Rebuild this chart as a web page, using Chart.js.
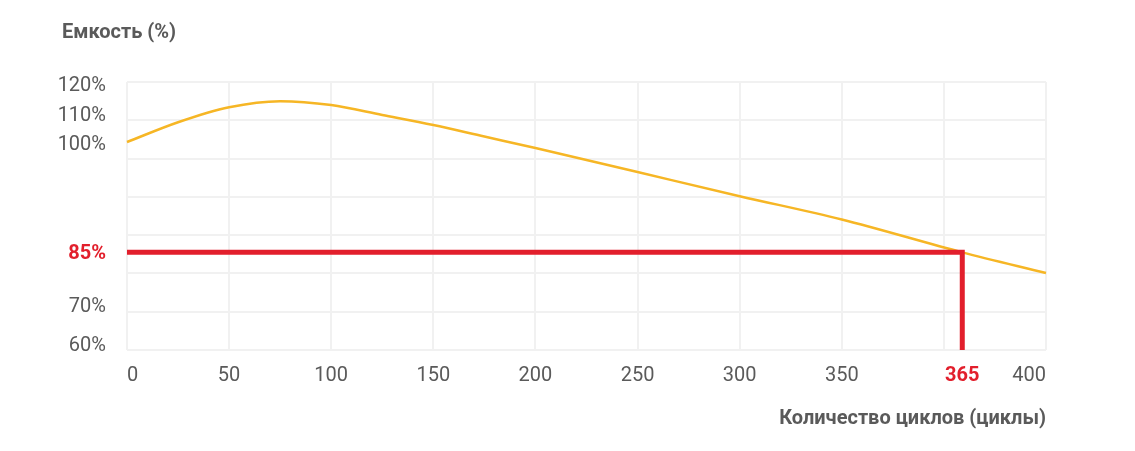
<!DOCTYPE html>
<html>
<head>
<meta charset="utf-8">
<script src="https://cdn.jsdelivr.net/npm/chart.js@4/dist/chart.umd.min.js"></script>
<style>
  html, body { margin: 0; padding: 0; background: #ffffff; }
  #wrap { position: relative; width: 1135px; height: 451px; }
</style>
</head>
<body>
<div id="wrap"><canvas id="c"></canvas></div>
<script>
// ---- data ----
const X_TICKS = [0, 50, 100, 150, 200, 250, 300, 350, 365, 400];      // cycles shown on the axis
const X_TICK_CELLS = [0, 1, 2, 3, 4, 5, 6, 7, 8.18, 9];                // where each label sits (in grid cells)
const X_CELLS = 9;
const Y_TICKS = [60, 70, 85, 100, 110, 120];                           // capacity labels (%)
const Y_TICK_CELLS = [0.157, 1.175, 2.55, 5.41, 6.16, 6.95];
const Y_CELLS = 7;
const HIGHLIGHT_X = [365];
const HIGHLIGHT_Y = [85];

const CYCLES   = [0,     25,    50,    75,    100,  125,   150,   175,   200,  250,  300,  350,  365, 400];
const CAPACITY = [100.3, 107.2, 112.3, 114.3, 113.0, 109.7, 106.2, 102.2, 99.3, 96.0, 92.7, 89.5, 85,  79.1];

const GUIDE_X = [0, 365, 365];
const GUIDE_Y = [85, 85, 50];

const Y_TITLE = 'Емкость (%)';
const X_TITLE = 'Количество циклов (циклы)';

// ---- piecewise scale: labels are placed at the positions used in the source graphic ----
function interp(v, xs, ys) {
  const n = xs.length;
  let i = 0;
  if (v <= xs[0]) i = 0;
  else if (v >= xs[n - 1]) i = n - 2;
  else { while (i < n - 2 && v > xs[i + 1]) i++; }
  const t = (v - xs[i]) / (xs[i + 1] - xs[i]);
  return ys[i] + t * (ys[i + 1] - ys[i]);
}
const PIECES = {
  x: { values: X_TICKS, cells: X_TICK_CELLS, total: X_CELLS },
  y: { values: Y_TICKS, cells: Y_TICK_CELLS, total: Y_CELLS }
};
class PiecewiseScale extends Chart.LinearScale {
  buildTicks() {
    return PIECES[this.id].values.map(v => ({ value: v }));
  }
  getPixelForValue(value) {
    const p = PIECES[this.id];
    const u = interp(value, p.values, p.cells);
    return this.getPixelForDecimal(u / p.total);
  }
  getValueForPixel(pixel) {
    const p = PIECES[this.id];
    const u = this.getDecimalForPixel(pixel) * p.total;
    return interp(u, p.cells, p.values);
  }
}
PiecewiseScale.id = 'piecewise';
PiecewiseScale.defaults = {};
Chart.register(PiecewiseScale);

const RED = '#e21f2c';
const YELLOW = '#f6b625';
const TEXT = '#5a5a5a';
const GRID = '#f1f1f1';
const FONT = 'Roboto, "Open Sans", sans-serif';

// y-axis caption, drawn horizontally above the axis like in the source
const yTitlePlugin = {
  id: 'yTitle',
  afterDraw(chart) {
    const c = chart.ctx;
    c.save();
    c.font = 'bold 20px ' + FONT;
    c.fillStyle = TEXT;
    c.textAlign = 'left';
    c.textBaseline = 'middle';
    c.fillText(Y_TITLE, 62, 33);
    c.restore();
  }
};

new Chart(document.getElementById('c'), {
  type: 'line',
  data: {
    datasets: [
      {
        label: 'guide',
        data: GUIDE_X.map((x, i) => ({ x: x, y: GUIDE_Y[i] })),
        borderColor: RED,
        borderWidth: 5,
        pointRadius: 0,
        tension: 0,
        borderJoinStyle: 'miter',
        borderCapStyle: 'butt',
        clip: 0,
        order: 1
      },
      {
        label: 'capacity',
        data: CYCLES.map((x, i) => ({ x: x, y: CAPACITY[i] })),
        borderColor: YELLOW,
        borderWidth: 2.5,
        pointRadius: 0,
        cubicInterpolationMode: 'monotone',
        clip: 2,
        order: 2
      }
    ]
  },
  plugins: [yTitlePlugin],
  options: {
    responsive: true,
    maintainAspectRatio: false,
    animation: false,
    events: [],
    layout: { padding: { left: 57, right: 89, top: 82, bottom: 0 } },
    plugins: {
      legend: { display: false },
      tooltip: { enabled: false },
      title: { display: false }
    },
    scales: {
      x: {
        type: 'piecewise',
        position: 'bottom',
        grid: { display: false, drawTicks: false },
        border: { display: false },
        afterFit: s => { s.height = 101; },
        ticks: {
          autoSkip: false,
          maxRotation: 0,
          align: 'inner',
          padding: 14,
          color: ctx => HIGHLIGHT_X.includes(ctx.tick.value) ? RED : TEXT,
          font: ctx => ({ family: FONT, size: 20, weight: HIGHLIGHT_X.includes(ctx.tick.value) ? 'bold' : 'normal' }),
          callback: v => String(v)
        },
        title: {
          display: true,
          text: X_TITLE,
          align: 'end',
          color: TEXT,
          font: { family: FONT, size: 20, weight: 'bold', lineHeight: 1.2 },
          padding: { top: 10, bottom: 20 }
        }
      },
      y: {
        type: 'piecewise',
        position: 'left',
        grid: { display: false, drawTicks: false },
        border: { display: false },
        afterFit: s => { s.width = 70; },
        ticks: {
          autoSkip: false,
          padding: 21,
          labelOffset: 2,
          color: ctx => HIGHLIGHT_Y.includes(ctx.tick.value) ? RED : TEXT,
          font: ctx => ({ family: FONT, size: 20, weight: HIGHLIGHT_Y.includes(ctx.tick.value) ? 'bold' : 'normal' }),
          callback: v => v + '%'
        }
      },
      xGrid: {
        type: 'linear',
        position: 'top',
        min: 0, max: X_CELLS,
        ticks: { display: false, stepSize: 1 },
        grid: { color: GRID, lineWidth: 2, drawTicks: false },
        border: { display: false }
      },
      yGrid: {
        type: 'linear',
        position: 'right',
        min: 0, max: Y_CELLS,
        ticks: { display: false, stepSize: 1 },
        grid: { color: GRID, lineWidth: 2, drawTicks: false },
        border: { display: false }
      }
    }
  }
});
</script>
</body>
</html>
